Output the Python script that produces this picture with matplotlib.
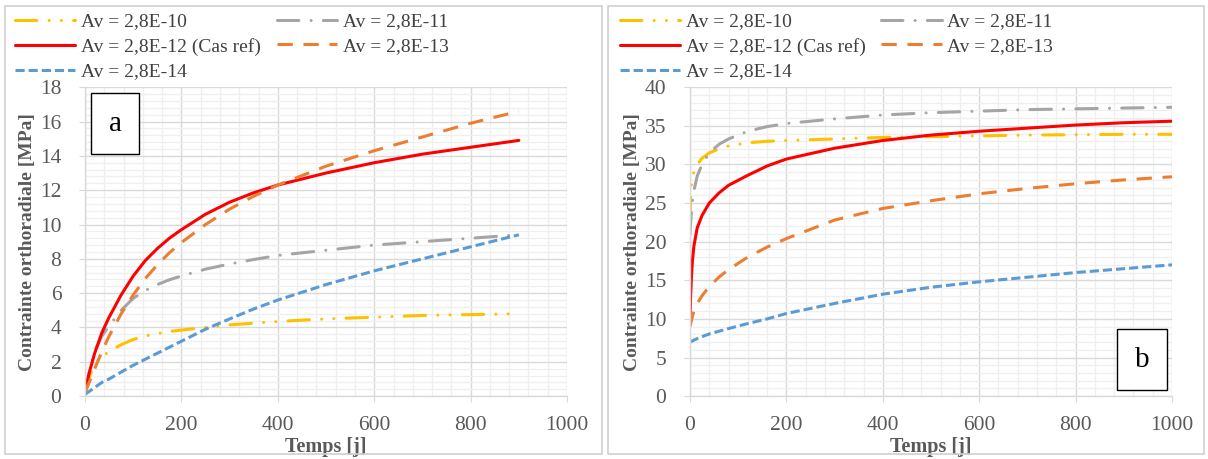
import matplotlib
matplotlib.use("Agg")
import matplotlib.pyplot as plt
from matplotlib.patches import Rectangle
from matplotlib.ticker import MultipleLocator

plt.rcParams["font.family"] = ["Liberation Serif", "DejaVu Serif"]

# panel a : temps [j] et contrainte [MPa]
t_a = [0, 10, 20, 35, 50, 75, 100, 125, 150, 175, 200, 250, 300, 350, 400, 500, 600, 700, 800, 900]
a_e10 = [0.2, 1.2, 1.8, 2.3, 2.6, 3.0, 3.3, 3.5, 3.65, 3.76, 3.85, 4.0, 4.15, 4.25, 4.35, 4.5, 4.6, 4.7, 4.75, 4.8]
a_e11 = [0.2, 1.6, 2.6, 3.5, 4.1, 5.0, 5.7, 6.15, 6.5, 6.78, 7.0, 7.4, 7.7, 7.96, 8.2, 8.5, 8.8, 9.0, 9.2, 9.4]
a_e12 = [0.3, 1.5, 2.5, 3.7, 4.6, 5.9, 7.0, 7.9, 8.6, 9.2, 9.7, 10.6, 11.3, 11.85, 12.3, 13.0, 13.6, 14.1, 14.5, 14.9]
a_e13 = [0.2, 0.9, 1.6, 2.6, 3.5, 4.8, 5.9, 6.85, 7.65, 8.35, 8.95, 10.0, 10.9, 11.65, 12.3, 13.4, 14.3, 15.1, 15.9, 16.6]
a_e14 = [0.1, 0.3, 0.5, 0.8, 1.0, 1.4, 1.8, 2.15, 2.5, 2.85, 3.2, 3.9, 4.5, 5.08, 5.6, 6.5, 7.3, 8.0, 8.7, 9.4]

# panel b
t_b = [0, 1, 3, 5, 8, 15, 25, 40, 60, 80, 120, 160, 200, 300, 400, 500, 600, 700, 800, 900, 1000]
b_e10 = [23.0, 25.5, 27.5, 28.4, 29.0, 30.0, 30.8, 31.5, 32.0, 32.4, 32.8, 33.0, 33.1, 33.3, 33.5, 33.6, 33.7, 33.8, 33.85, 33.9, 33.9]
b_e11 = [21.0, 22.3, 23.9, 25.2, 26.6, 28.5, 30.0, 31.5, 32.6, 33.3, 34.3, 34.9, 35.3, 35.9, 36.4, 36.7, 36.9, 37.1, 37.2, 37.3, 37.4]
b_e12 = [10.3, 12.6, 15.5, 17.5, 19.4, 21.8, 23.4, 25.0, 26.3, 27.3, 28.6, 29.8, 30.7, 32.1, 33.1, 33.8, 34.3, 34.7, 35.1, 35.4, 35.6]
b_e13 = [9.0, 9.3, 9.8, 10.3, 11.0, 12.0, 13.0, 14.2, 15.4, 16.4, 18.0, 19.3, 20.4, 22.8, 24.3, 25.3, 26.2, 26.9, 27.5, 28.0, 28.4]
b_e14 = [7.0, 7.03, 7.1, 7.15, 7.25, 7.45, 7.7, 8.05, 8.4, 8.75, 9.4, 10.0, 10.7, 12.0, 13.2, 14.1, 14.8, 15.4, 16.0, 16.5, 17.0]

labels = ["Av = 2,8E-10", "Av = 2,8E-11", "Av = 2,8E-12 (Cas ref)", "Av = 2,8E-13", "Av = 2,8E-14"]
colors = ["#FFC000", "#A5A5A5", "#FF0000", "#ED7D31", "#5B9BD5"]
styles = [(0, (7, 4, 0.01, 4, 0.01, 4)), (0, (7, 4, 0.01, 4)), "-", (0, (5, 3.5)), (0, (3, 1.3))]
caps = ["round", "round", "round", "butt", "butt"]

fig = plt.figure(figsize=(12.08, 4.59), dpi=100)

# cadres des deux panneaux
for x0, w in [(0.004, 0.494), (0.503, 0.494)]:
    fig.patches.append(Rectangle((x0, 0.01), w, 0.978, transform=fig.transFigure,
                                 fill=False, ec="#D0D0D0", lw=1.2))


def draw_panel(ax, t, series, ymax, ymaj, tag, tag_xy):
    lines = []
    for y, lab, c, ls, cap in zip(series, labels, colors, styles, caps):
        ln, = ax.plot(t, y, color=c, ls=ls, lw=2.2, label=lab,
                      dash_capstyle=cap, solid_capstyle="round")
        lines.append(ln)
    ax.set_xlim(0, 1000)
    ax.set_ylim(0, ymax)
    ax.xaxis.set_major_locator(MultipleLocator(200))
    ax.xaxis.set_minor_locator(MultipleLocator(40))
    ax.yaxis.set_major_locator(MultipleLocator(ymaj))
    ax.yaxis.set_minor_locator(MultipleLocator(ymaj / 5))
    ax.grid(which="major", color="#D9D9D9", lw=1.0)
    ax.grid(which="minor", color="#EFEFEF", lw=0.9)
    ax.set_axisbelow(True)
    for s in ["top", "right"]:
        ax.spines[s].set_visible(False)
    for s in ["left", "bottom"]:
        ax.spines[s].set_color("#D9D9D9")
        ax.spines[s].set_linewidth(1.0)
    ax.tick_params(which="minor", length=0)
    ax.tick_params(which="major", length=4, color="#D9D9D9", labelsize=15.5,
                   labelcolor="#595959")
    ax.tick_params(axis="y", which="major", pad=13)
    ax.tick_params(axis="x", which="major", pad=10)
    ax.set_xlabel("Temps [j]", fontsize=14.5, fontweight="bold", color="#595959", labelpad=2)
    ax.set_ylabel("Contrainte orthoradiale [MPa]", fontsize=14, fontweight="bold",
                  color="#595959", labelpad=3)
    ax.text(tag_xy[0], tag_xy[1], tag, transform=ax.transAxes, fontsize=21,
            ha="center", va="center",
            bbox=dict(boxstyle="square,pad=0.6", fc="white", ec="black", lw=1.0))
    return lines


ax1 = fig.add_axes([0.0704, 0.137, 0.399, 0.673])
ax2 = fig.add_axes([0.5712, 0.137, 0.399, 0.673])

l1 = draw_panel(ax1, t_a, [a_e10, a_e11, a_e12, a_e13, a_e14], 18, 2, "a", (0.063, 0.882))
l2 = draw_panel(ax2, t_b, [b_e10, b_e11, b_e12, b_e13, b_e14], 40, 5, "b", (0.938, 0.117))

order = [0, 2, 4, 1, 3]
for lines, x in [(l1, 0.0124), (l2, 0.513)]:
    fig.legend([lines[i] for i in order], [labels[i] for i in order], ncol=2,
               loc="upper left", bbox_to_anchor=(x, 0.972), frameon=False,
               fontsize=14, handlelength=3.1, handletextpad=0.3, columnspacing=0.8,
               labelspacing=0.37, borderpad=0, borderaxespad=0, labelcolor="#404040")

fig.savefig("out.png", dpi=100)
